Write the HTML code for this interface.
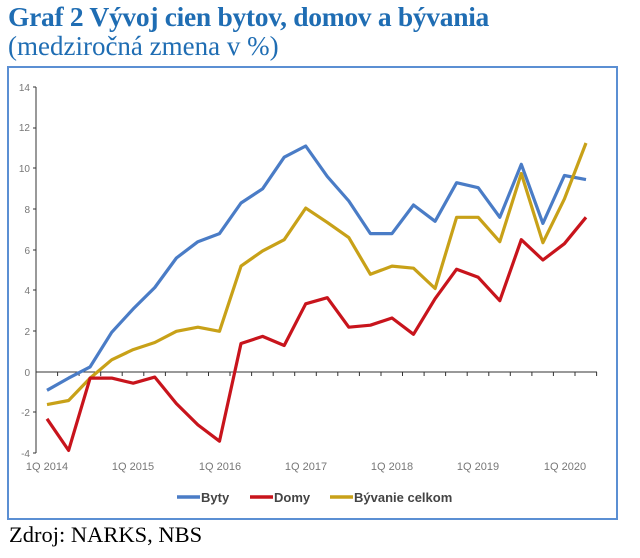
<!DOCTYPE html>
<html><head><meta charset="utf-8"><style>
body{margin:0;background:#fff;width:640px;height:558px;overflow:hidden;position:relative}
.t{position:absolute;font-family:"Liberation Serif",serif;color:#1f6db3;white-space:nowrap}
</style></head><body>
<div class="t" style="left:8px;top:1px;font-size:27.5px;font-weight:bold;letter-spacing:-0.3px">Graf 2 Vývoj cien bytov, domov a bývania</div>
<div class="t" style="left:8px;top:31px;font-size:27px">(medziročná zmena v %)</div>
<div style="position:absolute;left:7px;top:66px;width:611px;height:454px;border:2px solid #5b8fd3;box-sizing:border-box"></div>
<div class="t" style="left:9px;top:522px;font-size:22.5px;color:#000">Zdroj: NARKS, NBS</div>
<svg width="640" height="558" style="position:absolute;left:0;top:0" font-family="Liberation Sans, sans-serif">
<g font-size="10" fill="#777" text-anchor="end">
<text x="30" y="91">14</text><text x="30" y="131">12</text><text x="30" y="172">10</text><text x="30" y="213">8</text><text x="30" y="254">6</text><text x="30" y="294">4</text><text x="30" y="335">2</text><text x="30" y="376">0</text><text x="30" y="416">-2</text><text x="30" y="457">-4</text>
</g>
<g stroke="#333" stroke-width="1">
<line x1="36" y1="87" x2="36" y2="453"/>
<path d="M33 87h3M33 128h3M33 168h3M33 209h3M33 250h3M33 290h3M33 331h3M33 412h3M33 453h3"/>
<line x1="36" y1="372" x2="597" y2="372"/>
<path id="tk" d=""/>
</g>
<g font-size="11" fill="#777" text-anchor="middle">
<text x="47" y="470">1Q 2014</text><text x="133" y="470">1Q 2015</text><text x="220" y="470">1Q 2016</text><text x="306" y="470">1Q 2017</text><text x="392" y="470">1Q 2018</text><text x="478" y="470">1Q 2019</text><text x="565" y="470">1Q 2020</text>
</g>
<g fill="none" stroke-width="3.2" stroke-linejoin="round">
<polyline id="b" stroke="#4a7cc6"/>
<polyline id="y" stroke="#c8a118"/>
<polyline id="r" stroke="#c8141c"/>
</g>
<g stroke-width="3.5">
<line x1="177" y1="497" x2="200" y2="497" stroke="#4a7cc6"/>
<line x1="250" y1="497" x2="273" y2="497" stroke="#c8141c"/>
<line x1="330" y1="497" x2="353" y2="497" stroke="#c8a118"/>
</g>
<g font-size="13" font-weight="bold" fill="#444">
<text x="201" y="502">Byty</text><text x="274" y="502">Domy</text><text x="354" y="502">Bývanie celkom</text>
</g>
</svg>
<script>
var B=[-0.9,-0.3,0.25,1.95,3.1,4.15,5.6,6.4,6.8,8.3,9.0,10.55,11.1,9.6,8.4,6.8,6.8,8.2,7.4,9.3,9.05,7.6,10.2,7.3,9.65,9.45];
var Y=[-1.6,-1.4,-0.3,0.6,1.1,1.45,2.0,2.2,2.0,5.2,5.95,6.5,8.05,7.35,6.6,4.8,5.2,5.1,4.1,7.6,7.6,6.4,9.75,6.35,8.5,11.25];
var R=[-2.3,-3.85,-0.3,-0.3,-0.55,-0.25,-1.55,-2.6,-3.4,1.4,1.75,1.3,3.35,3.65,2.2,2.3,2.65,1.85,3.6,5.05,4.65,3.5,6.5,5.5,6.3,7.6];
function p(a){return a.map(function(v,i){return (47+i*21.56).toFixed(1)+","+(372-v*20.36).toFixed(1)}).join(" ")}
document.getElementById("b").setAttribute("points",p(B));
document.getElementById("y").setAttribute("points",p(Y));
document.getElementById("r").setAttribute("points",p(R));
var d="";for(var k=0;k<=26;k++){d+="M"+(36+k*21.56).toFixed(1)+" 372v4";}
document.getElementById("tk").setAttribute("d",d);
</script>
</body></html>
